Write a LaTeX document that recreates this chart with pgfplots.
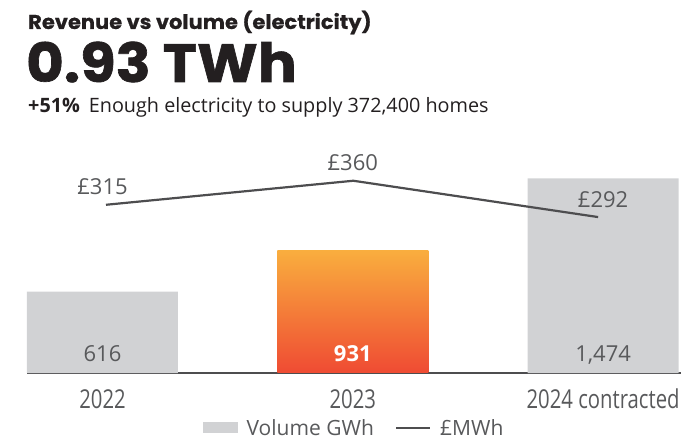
\documentclass[border=0pt]{standalone}
\usepackage{fontspec}
\usepackage{pgfplots}
\pgfplotsset{compat=1.18}
\setmainfont{Open Sans}
\newfontfamily\headfont{Poppins}[FakeStretch=1.05, FakeBold=0.6]
\newfontfamily\bigfont{Poppins}[FakeStretch=1.07, FakeBold=1.2]
\newfontfamily\condfont{Open Sans}[FakeStretch=0.78]
\definecolor{txtdark}{HTML}{231F20}
\definecolor{txtgray}{HTML}{58595B}
\definecolor{bargray}{HTML}{D1D2D4}
\definecolor{orangetop}{HTML}{F9AE3E}
\definecolor{orangebot}{HTML}{EF4B33}
\definecolor{linecol}{HTML}{4D4D4F}
\begin{document}
\begin{tikzpicture}
\useasboundingbox (0,0) rectangle (681bp,444bp);
% headings
\node[anchor=base west, inner sep=0pt, text=txtdark, text depth=0pt] at (28bp,415bp)
  {\headfont\bfseries\fontsize{20bp}{24bp}\selectfont Revenue vs volume (electricity)};
\node[anchor=base west, inner sep=0pt, text=txtdark, text depth=0pt, text height=38bp] at (26bp,362bp)
  {\bigfont\bfseries\fontsize{54bp}{60bp}\selectfont 0.93 TWh};
\node[anchor=base west, inner sep=0pt, text=txtdark, text height=14bp] at (28bp,331bp)
  {\fontsize{19.8bp}{23bp}\selectfont\textbf{+51\%}\hspace{0.45em}Enough electricity to supply 372,400 homes};

% bars (volume GWh)
\begin{axis}[
  at={(27bp,71bp)}, anchor=south west,
  scale only axis, width=654bp, height=223bp,
  xmin=-0.3016, xmax=2.3112, ymin=0, ymax=1689,
  axis y line=none, axis x line*=bottom,
  axis line style={linecol, line width=1.3bp, -},
  xtick={0,1,2}, xticklabels={2022,2023,2024 contracted},
  xtick style={draw=none},
  xticklabel style={anchor=base, yshift=-35bp, text=txtgray,
     font=\condfont\fontsize{26bp}{30bp}\selectfont},
  clip=false,
  legend columns=2,
  legend style={at={(0.5,-0.2466)}, anchor=center, draw=none, fill=none,
     font=\fontsize{21bp}{25bp}\selectfont, text=txtgray,
     /tikz/every odd column/.append style={column sep=7bp},
     /tikz/every even column/.append style={column sep=19bp}},
  legend cell align=left,
]
\addplot[ybar, bar width=151bp, bar shift=0pt, draw=none, fill=bargray,
  area legend,
  legend image code/.code={\fill[bargray] (0bp,-5.5bp) rectangle (35bp,5.5bp);}]
  coordinates {(0,616) (2,1474)};
\addlegendentry{Volume GWh}
\addlegendimage{legend image code/.code={\draw[linecol, line width=2.2bp] (0bp,0bp) -- (34bp,0bp);}}
\addlegendentry{£MWh}
\addplot[ybar, bar width=151bp, bar shift=0pt, draw=none,
  top color=orangetop, bottom color=orangebot, forget plot]
  coordinates {(1,931)};
% bar value labels
\addplot[draw=none, mark=none, forget plot, nodes near coords,
  point meta=explicit symbolic,
  every node near coord/.style={anchor=base, yshift=12bp, text=txtgray,
     font=\fontsize{22bp}{26bp}\selectfont}]
  coordinates {(0,0)[616] (2,0)[1,474]};
\addplot[draw=none, mark=none, forget plot, nodes near coords,
  point meta=explicit symbolic,
  every node near coord/.style={anchor=base, yshift=12bp, text=white,
     font=\bfseries\fontsize{22bp}{26bp}\selectfont}]
  coordinates {(1,0)[931]};
\end{axis}

% line (price per MWh)
\begin{axis}[
  at={(27bp,71bp)}, anchor=south west,
  scale only axis, width=654bp, height=223bp,
  xmin=-0.3016, xmax=2.3112, ymin=0, ymax=417.6,
  hide axis, clip=false,
]
\addplot[linecol, line width=2.2bp, mark=none]
  coordinates {(0.014,315) (1.002,360) (1.98,292)};
\addplot[draw=none, mark=none, nodes near coords,
  point meta=explicit symbolic,
  every node near coord/.style={anchor=base, yshift=10bp, text=txtgray,
     font=\fontsize{22bp}{26bp}\selectfont}]
  coordinates {(0,315)[£315] (1,360)[£360] (2,292)[£292]};
\end{axis}
\end{tikzpicture}
\end{document}
